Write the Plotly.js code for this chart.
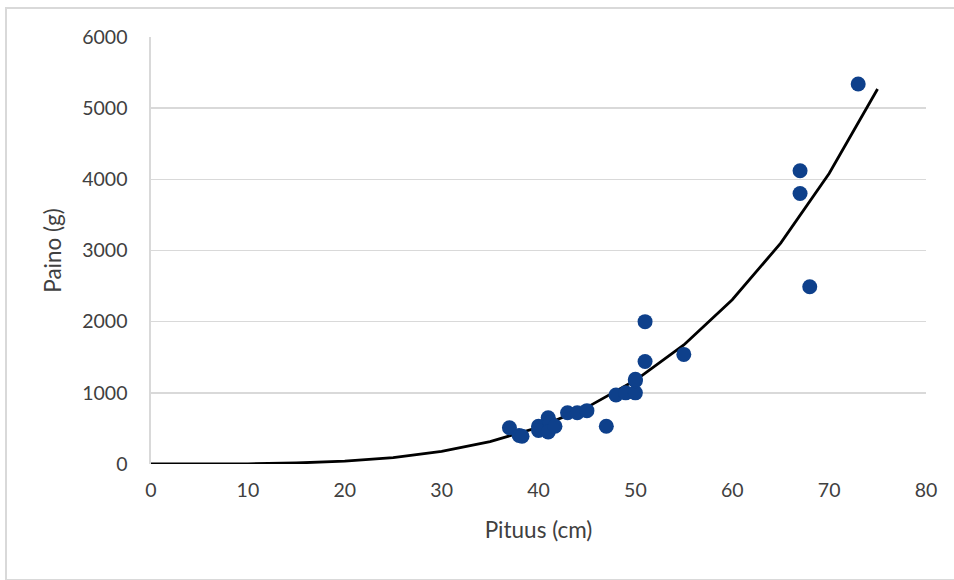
<!DOCTYPE html>
<html>
<head>
<meta charset="utf-8">
<script src="https://cdn.plot.ly/plotly-3.0.1.min.js"></script>
<style>
  html, body { margin: 0; padding: 0; background: #ffffff; overflow: hidden; }
  #wrap { position: relative; width: 954px; height: 580px; overflow: hidden; }
  #chart { position: absolute; left: 0; top: 0; width: 954px; height: 580px; }
  #frame { position: absolute; left: 5px; top: 7px; width: 949px; height: 574px;
           border-left: 2px solid #d9d9d9; border-top: 2px solid #d9d9d9; border-bottom: 2px solid #d9d9d9;
           pointer-events: none; box-sizing: border-box; }
</style>
</head>
<body>
<div id="wrap">
  <div id="chart"></div>
  <div id="frame"></div>
</div>
<script>
// Measured data points: length (cm) and weight (g)
const pituus = [37, 38, 38.3, 40, 40, 41, 41.2, 41, 41.7, 43, 44, 45, 47, 48, 49, 50, 50, 50, 51, 51, 55, 67, 67, 68, 73];
const paino  = [510, 400, 390, 530, 470, 650, 580, 450, 530, 720, 720, 750, 530, 970, 1000, 1000, 1170, 1190, 1440, 2000, 1540, 4120, 3800, 2490, 5340];

// Trend curve
const trendX = [0, 5, 10, 15, 20, 25, 30, 35, 40, 45, 50, 55, 60, 65, 70, 75];
const trendY = [0, 0, 3, 14, 40, 90, 177, 314, 515, 796, 1176, 1673, 2308, 3103, 4083, 5270];

const xTicks = [0, 10, 20, 30, 40, 50, 60, 70, 80];
const yTicks = [0, 1000, 2000, 3000, 4000, 5000, 6000];

const fontFam = 'Lato, "Open Sans", sans-serif';

const traces = [
  {
    x: trendX, y: trendY, type: 'scatter', mode: 'lines',
    line: { color: '#000000', width: 2.8 },
    hoverinfo: 'skip', showlegend: false
  },
  {
    x: pituus, y: paino, type: 'scatter', mode: 'markers',
    marker: { color: '#0e408b', size: 15 },
    showlegend: false
  }
];

const layout = {
  width: 954, height: 580,
  margin: { l: 151, r: 28, t: 37, b: 115.5, pad: 0 },
  paper_bgcolor: '#ffffff', plot_bgcolor: '#ffffff',
  font: { family: fontFam, size: 19, color: '#404040' },
  showlegend: false,
  xaxis: {
    range: [0, 80], tickmode: 'array', tickvals: xTicks,
    showgrid: false, zeroline: false,
    showline: false, ticks: '',
    ticklabelstandoff: 12,
    tickfont: { family: fontFam, size: 19.5, color: '#404040' },
    title: { text: 'Pituus (cm)', font: { family: fontFam, size: 22.5, color: '#404040' }, standoff: 22 }
  },
  yaxis: {
    range: [0, 6000], tickmode: 'array', tickvals: yTicks,
    showgrid: true, gridcolor: '#d9d9d9', gridwidth: 1.6,
    zeroline: false, showline: true, linecolor: '#d9d9d9', linewidth: 1.6,
    ticks: '', ticklabelstandoff: 18,
    tickfont: { family: fontFam, size: 19.5, color: '#404040' },
    title: { text: 'Paino (g)', font: { family: fontFam, size: 22.5, color: '#404040' }, standoff: 14 }
  }
};

Plotly.newPlot('chart', traces, layout, { displayModeBar: false, staticPlot: true });
</script>
</body>
</html>
